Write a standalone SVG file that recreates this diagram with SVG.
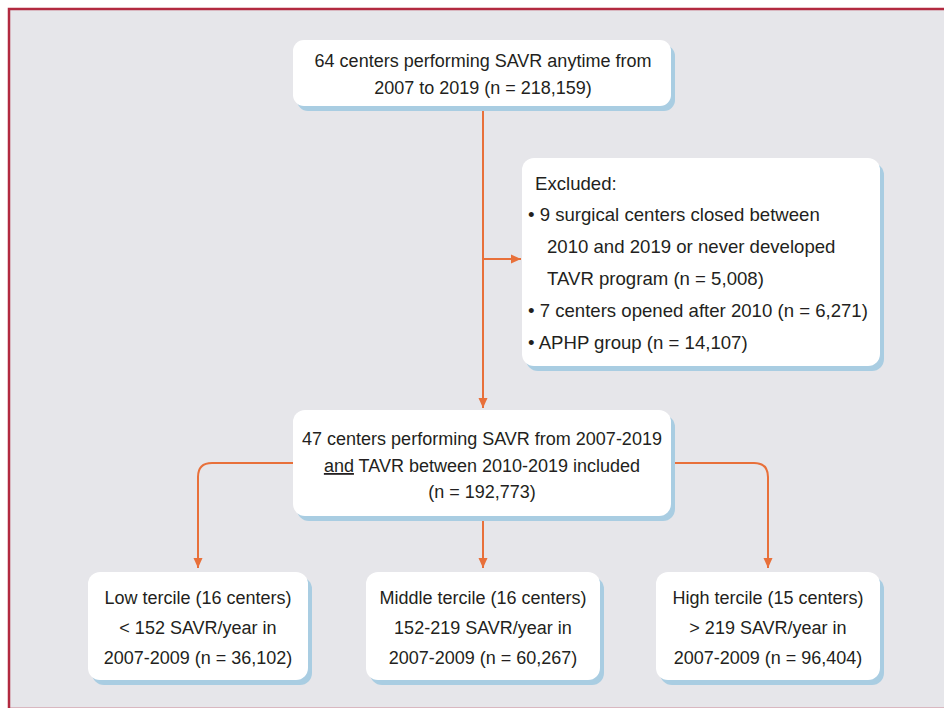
<svg xmlns="http://www.w3.org/2000/svg" width="944" height="708" viewBox="0 0 944 708">
<defs>
<style>
.bg{fill:#e6e6ea;stroke:#b22a40;stroke-width:2.5}
.box{fill:#ffffff}
.sh{fill:#a9cde2}
.t{font-family:"Liberation Sans",Arial,sans-serif;font-size:18px;fill:#231f20}
.e{font-size:18.6px}
.c{text-anchor:middle}
.ln{fill:none;stroke:#e8703a;stroke-width:2}
</style>
<marker id="ah" markerUnits="userSpaceOnUse" markerWidth="12" markerHeight="10" refX="10" refY="5" orient="auto">
<path d="M0,0.5 L10,5 L0,9.5 Z" fill="#e8703a"/>
</marker>
</defs>
<rect width="944" height="708" fill="#ffffff"/>
<rect class="bg" x="9" y="9" width="960" height="700"/>

<g id="connectors">
<path class="ln" d="M483 106 V408" marker-end="url(#ah)"/>
<path class="ln" d="M483 259 H521" marker-end="url(#ah)"/>
<path class="ln" d="M293 463 H212 Q198 463 198 477 V568" marker-end="url(#ah)"/>
<path class="ln" d="M483 516 V568" marker-end="url(#ah)"/>
<path class="ln" d="M671 463 H754 Q768 463 768 477 V568" marker-end="url(#ah)"/>
</g>

<g id="top">
<rect class="sh" x="297" y="45" width="378" height="66" rx="11"/>
<rect class="box" x="293" y="40" width="378" height="66" rx="11"/>
<text class="t c" x="483" y="67">64 centers performing SAVR anytime from</text>
<text class="t c" x="483" y="94">2007 to 2019 (n = 218,159)</text>
</g>

<g id="excluded">
<rect class="sh" x="526" y="163" width="358" height="208" rx="12"/>
<rect class="box" x="522" y="158" width="358" height="208" rx="12"/>
<text class="t e" x="535" y="190">Excluded:</text>
<text class="t e" x="528" y="221">• 9 surgical centers closed between</text>
<text class="t e" x="547" y="253">2010 and 2019 or never developed</text>
<text class="t e" x="547" y="285">TAVR program (n = 5,008)</text>
<text class="t e" x="528" y="317">• 7 centers opened after 2010 (n = 6,271)</text>
<text class="t e" x="528" y="349">• APHP group (n = 14,107)</text>
</g>

<g id="included">
<rect class="sh" x="297" y="415" width="378" height="106" rx="12"/>
<rect class="box" x="293" y="410" width="378" height="106" rx="12"/>
<text class="t c" x="482" y="445">47 centers performing SAVR from 2007-2019</text>
<text class="t c" x="482" y="472"><tspan text-decoration="underline">and</tspan> TAVR between 2010-2019 included</text>
<text class="t c" x="482" y="498">(n = 192,773)</text>
</g>

<g id="low">
<rect class="sh" x="92" y="577" width="220" height="108" rx="12"/>
<rect class="box" x="88" y="572" width="220" height="108" rx="12"/>
<text class="t c" x="198" y="604">Low tercile (16 centers)</text>
<text class="t c" x="198" y="634">&lt; 152 SAVR/year in</text>
<text class="t c" x="198" y="664">2007-2009 (n = 36,102)</text>
</g>

<g id="middle">
<rect class="sh" x="370" y="577" width="234" height="108" rx="12"/>
<rect class="box" x="366" y="572" width="234" height="108" rx="12"/>
<text class="t c" x="483" y="604">Middle tercile (16 centers)</text>
<text class="t c" x="483" y="634">152-219 SAVR/year in</text>
<text class="t c" x="483" y="664">2007-2009 (n = 60,267)</text>
</g>

<g id="high">
<rect class="sh" x="660" y="577" width="224" height="108" rx="12"/>
<rect class="box" x="656" y="572" width="224" height="108" rx="12"/>
<text class="t c" x="768" y="604">High tercile (15 centers)</text>
<text class="t c" x="768" y="634">&gt; 219 SAVR/year in</text>
<text class="t c" x="768" y="664">2007-2009 (n = 96,404)</text>
</g>
</svg>
